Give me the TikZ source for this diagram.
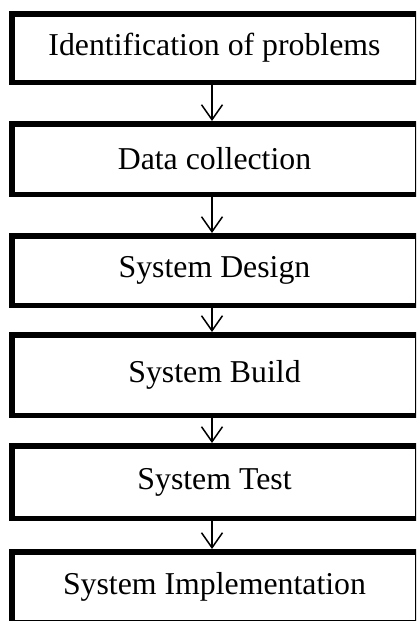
\documentclass[tikz,border=0pt]{standalone}
\usepackage{fontspec}
\setmainfont{Liberation Serif}
\usetikzlibrary{arrows.meta}

\tikzset{
  stage/.style={draw=black, line width=5.5pt, minimum width=405.5pt, inner sep=0pt,
    font=\fontsize{31.8}{38}\selectfont},
  flow/.style={black, line width=1.5pt, -{Straight Barb[width=21pt,length=15pt]}}
}

\begin{document}
\begin{tikzpicture}[x=1pt,y=-1pt]

\useasboundingbox (0,0) rectangle (416,621);
\clip (0,0) rectangle (416,621);

\node[stage, minimum height=68.5pt] (ident) at (214.5,48) {Identification of problems};
\node[stage, minimum height=70.5pt] (data) at (214.5,159) {Data collection};
\node[stage, minimum height=69.5pt] (design) at (214.5,270.5) {System Design};
\node[stage, minimum height=80.5pt] (build) at (214.5,375) {System Build};
\node[stage, minimum height=72.5pt] (test) at (214.5,482) {System Test};
\node[stage, minimum height=70.5pt] (impl) at (214.5,587) {System Implementation};

\coordinate (axis) at (212,0);

%ident->data
\draw[flow] (ident.south -| axis) -- (data.north -| axis);

%data->design
\draw[flow] (data.south -| axis) -- (design.north -| axis);

%design->build
\draw[flow] (design.south -| axis) -- (build.north -| axis);

%build->test
\draw[flow] (build.south -| axis) -- (test.north -| axis);

%test->impl
\draw[flow] (test.south -| axis) -- (impl.north -| axis);

\end{tikzpicture}
\end{document}
